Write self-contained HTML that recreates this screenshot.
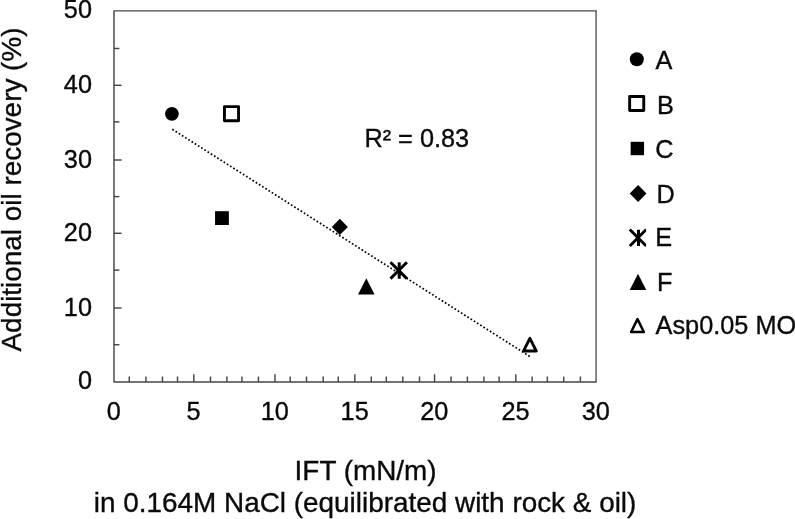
<!DOCTYPE html>
<html lang="en"><head><meta charset="utf-8"><title>Additional oil recovery vs IFT</title>
<style>html,body{margin:0;padding:0;background:#fff;}body{width:795px;height:519px;overflow:hidden;}svg{display:block;}</style>
</head><body>
<svg width="795" height="519" viewBox="0 0 795 519">
<rect x="0" y="0" width="795" height="519" fill="#ffffff"/>
<line x1="596.05" y1="10.85" x2="596.05" y2="381.9" stroke="#6a6a6a" stroke-width="1.6" fill="none"/>
<g fill="none" stroke="#464646" stroke-width="1.45">
<polyline points="596.65,10.85 114.0,10.85 114.0,381.9 596.65,381.9" stroke-linejoin="round"/>
<line x1="129.26" y1="381.90" x2="129.26" y2="376.50"/>
<line x1="145.94" y1="381.90" x2="145.94" y2="376.50"/>
<line x1="162.46" y1="381.90" x2="162.46" y2="376.50"/>
<line x1="177.50" y1="381.90" x2="177.50" y2="376.50"/>
<line x1="193.85" y1="381.90" x2="193.85" y2="374.30"/>
<line x1="210.50" y1="381.90" x2="210.50" y2="376.50"/>
<line x1="226.90" y1="381.90" x2="226.90" y2="376.50"/>
<line x1="241.94" y1="381.90" x2="241.94" y2="376.50"/>
<line x1="258.45" y1="381.90" x2="258.45" y2="376.50"/>
<line x1="274.97" y1="381.90" x2="274.97" y2="374.30"/>
<line x1="290.18" y1="381.90" x2="290.18" y2="376.50"/>
<line x1="306.53" y1="381.90" x2="306.53" y2="376.50"/>
<line x1="323.20" y1="381.90" x2="323.20" y2="376.50"/>
<line x1="338.26" y1="381.90" x2="338.26" y2="376.50"/>
<line x1="354.85" y1="381.90" x2="354.85" y2="374.30"/>
<line x1="371.26" y1="381.90" x2="371.26" y2="376.50"/>
<line x1="386.30" y1="381.90" x2="386.30" y2="376.50"/>
<line x1="402.82" y1="381.90" x2="402.82" y2="376.50"/>
<line x1="419.50" y1="381.90" x2="419.50" y2="376.50"/>
<line x1="434.55" y1="381.90" x2="434.55" y2="374.30"/>
<line x1="451.06" y1="381.90" x2="451.06" y2="376.50"/>
<line x1="467.40" y1="381.90" x2="467.40" y2="376.50"/>
<line x1="483.90" y1="381.90" x2="483.90" y2="376.50"/>
<line x1="499.10" y1="381.90" x2="499.10" y2="376.50"/>
<line x1="515.80" y1="381.90" x2="515.80" y2="374.30"/>
<line x1="532.14" y1="381.90" x2="532.14" y2="376.50"/>
<line x1="547.35" y1="381.90" x2="547.35" y2="376.50"/>
<line x1="563.70" y1="381.90" x2="563.70" y2="376.50"/>
<line x1="580.40" y1="381.90" x2="580.40" y2="376.50"/>
<line x1="114.00" y1="344.70" x2="119.40" y2="344.70"/>
<line x1="114.00" y1="308.00" x2="121.60" y2="308.00"/>
<line x1="114.00" y1="270.10" x2="119.40" y2="270.10"/>
<line x1="114.00" y1="233.30" x2="121.60" y2="233.30"/>
<line x1="114.00" y1="196.60" x2="119.40" y2="196.60"/>
<line x1="114.00" y1="160.00" x2="121.60" y2="160.00"/>
<line x1="114.00" y1="121.90" x2="119.40" y2="121.90"/>
<line x1="114.00" y1="85.30" x2="121.60" y2="85.30"/>
<line x1="114.00" y1="48.50" x2="119.40" y2="48.50"/>
</g>
<g font-family="'Liberation Sans', Arial, sans-serif" font-size="25.3" fill="#0a0a0a" stroke="#0a0a0a" stroke-width="0.35">
<text transform="translate(113.80 420.20) scale(1 1.035)" text-anchor="middle">0</text>
<text transform="translate(193.65 420.20) scale(1 1.035)" text-anchor="middle">5</text>
<text transform="translate(274.77 420.20) scale(1 1.035)" text-anchor="middle">10</text>
<text transform="translate(354.65 420.20) scale(1 1.035)" text-anchor="middle">15</text>
<text transform="translate(434.35 420.20) scale(1 1.035)" text-anchor="middle">20</text>
<text transform="translate(515.60 420.20) scale(1 1.035)" text-anchor="middle">25</text>
<text transform="translate(595.85 420.20) scale(1 1.035)" text-anchor="middle">30</text>
<text transform="translate(92.00 389.45) scale(1 1.035)" text-anchor="end">0</text>
<text transform="translate(92.00 315.55) scale(1 1.035)" text-anchor="end">10</text>
<text transform="translate(92.00 240.85) scale(1 1.035)" text-anchor="end">20</text>
<text transform="translate(92.00 167.55) scale(1 1.035)" text-anchor="end">30</text>
<text transform="translate(92.00 92.85) scale(1 1.035)" text-anchor="end">40</text>
<text transform="translate(92.00 18.35) scale(1 1.035)" text-anchor="end">50</text>
<text transform="translate(364.40 147.30) scale(1 1.035)">R² = 0.83</text>
<text transform="translate(655.40 69.00) scale(1 1.035)">A</text>
<text transform="translate(657.10 113.70) scale(1 1.035)">B</text>
<text transform="translate(655.30 157.90) scale(1 1.035)">C</text>
<text transform="translate(656.40 202.50) scale(1 1.035)">D</text>
<text transform="translate(655.30 246.40) scale(1 1.035)">E</text>
<text transform="translate(657.00 291.20) scale(1 1.035)">F</text>
<text transform="translate(655.60 333.90) scale(1 1.035)">Asp0.05 MO</text>
</g>
<g font-family="'Liberation Sans', Arial, sans-serif" font-size="27.9" fill="#0a0a0a" stroke="#0a0a0a" stroke-width="0.35" text-anchor="middle">
<text x="365.6" y="480.4">IFT (mN/m)</text>
<text x="365.1" y="512.1">in 0.164M NaCl (equilibrated with rock &amp; oil)</text>
<text transform="translate(20.8 189.5) rotate(-90)" x="0" y="0">Additional oil recovery (%)</text>
</g>
<line x1="172.33" y1="129.30" x2="529.95" y2="356.58" stroke="#000" stroke-width="1.7" stroke-dasharray="1.7 2.1" fill="none"/>
<circle cx="171.9" cy="113.8" r="6.9" fill="#000"/>
<rect x="224.45" y="106.65" width="14.1" height="14.1" fill="#fff" stroke="#000" stroke-width="2.9" stroke-linejoin="round"/>
<rect x="215.05" y="211.20" width="13.8" height="13.8" fill="#000"/>
<polygon points="339.83,218.85 347.88,226.9 339.83,234.95000000000002 331.78,226.9" fill="#000"/>
<polygon points="366.3,278.3 374.55,294.59999999999997 358.05,294.59999999999997" fill="#000"/>
<g stroke="#000" stroke-width="2.9" fill="none"><line x1="390.50" y1="262.25" x2="406.90" y2="278.65"/><line x1="390.50" y1="278.65" x2="406.90" y2="262.25"/><line x1="399.20" y1="262.35" x2="399.20" y2="278.75" stroke-width="3.0"/></g>
<polygon points="529.90,338.35 536.35,351.05 523.45,351.05" fill="#fff" stroke="#000" stroke-width="2.9" stroke-linejoin="round"/>
<circle cx="636.8" cy="59.3" r="7.0" fill="#000"/>
<rect x="629.65" y="96.45" width="14.1" height="14.1" fill="#fff" stroke="#000" stroke-width="2.9" stroke-linejoin="round"/>
<rect x="630.65" y="141.80" width="13.4" height="13.4" fill="#000"/>
<polygon points="638.1,185.1 646.5,193.5 638.1,201.9 629.7,193.5" fill="#000"/>
<clipPath id="sc1"><rect x="626.00" y="225.75" width="20.10" height="24"/></clipPath><g stroke="#000" stroke-width="2.9" fill="none" clip-path="url(#sc1)"><line x1="629.80" y1="229.55" x2="646.20" y2="245.95"/><line x1="629.80" y1="245.95" x2="646.20" y2="229.55"/><line x1="638.50" y1="229.65" x2="638.50" y2="246.05" stroke-width="3.0"/></g>
<polygon points="638.0,273.75 646.25,290.04999999999995 629.75,290.04999999999995" fill="#000"/>
<polygon points="637.50,319.15 643.88,332.05 631.12,332.05" fill="#fff" stroke="#000" stroke-width="2.5" stroke-linejoin="round"/>
</svg>
</body></html>
